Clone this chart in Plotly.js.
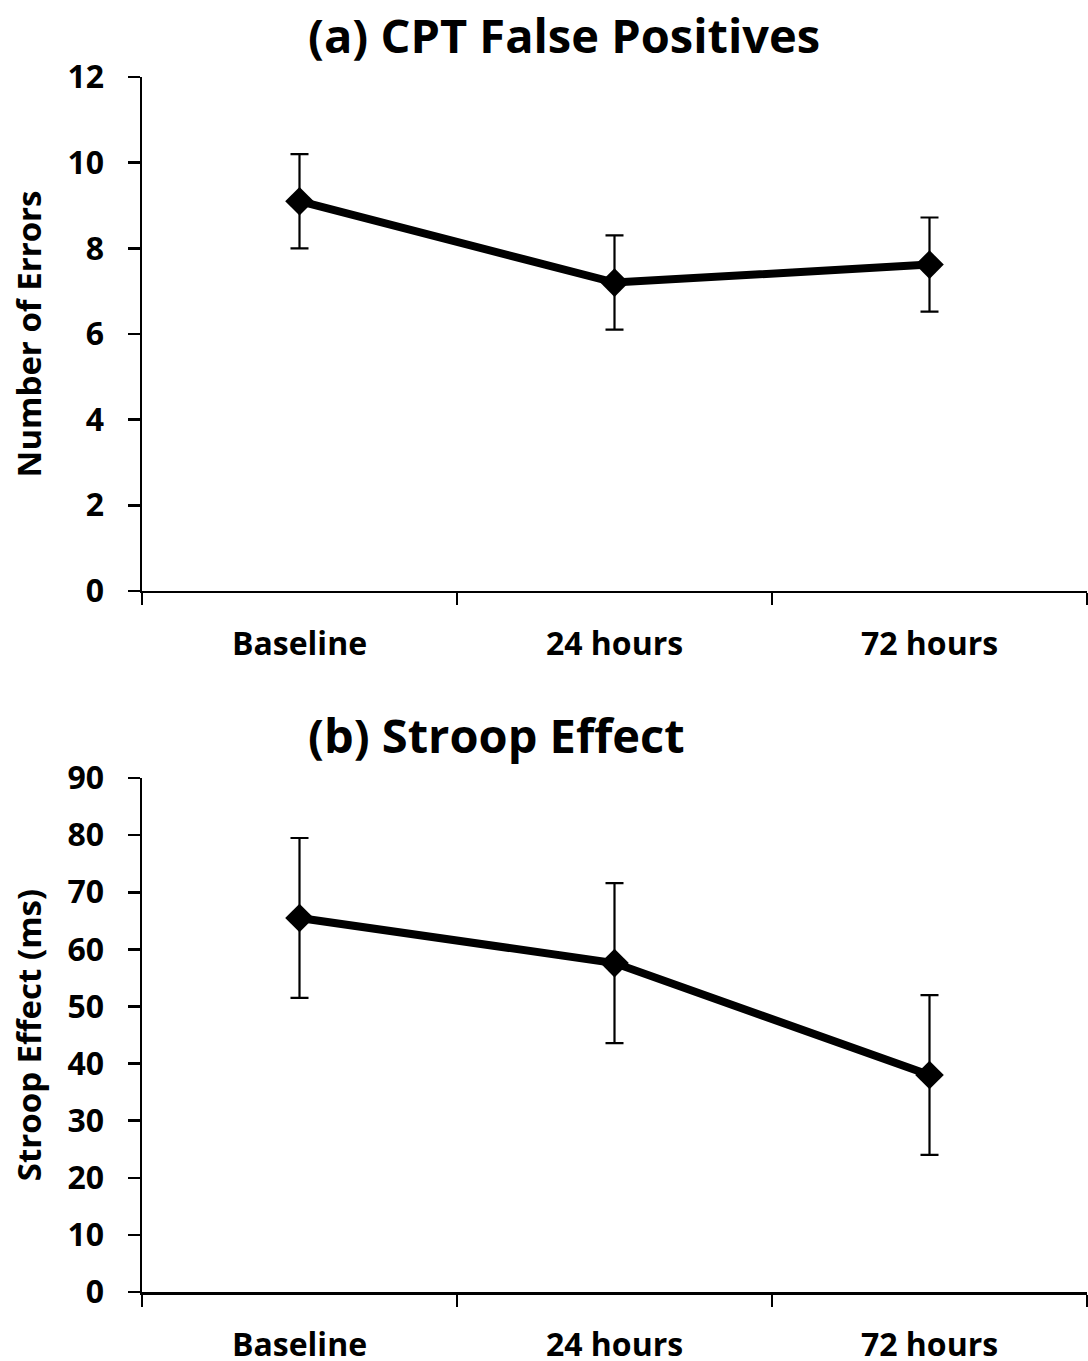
<!DOCTYPE html>
<html>
<head>
<meta charset="utf-8">
<script src="https://cdn.plot.ly/plotly-3.0.1.min.js"></script>
<style>html,body{margin:0;padding:0;background:#fff;}</style>
</head>
<body>
<div id="chart" style="width:1088px;height:1361px;"></div>
<script>
const categories = ["Baseline", "24 hours", "72 hours"];
const cptErrors = [9.1, 7.2, 7.62];
const cptSE = [1.1, 1.1, 1.1];
const stroopMs = [65.5, 57.6, 38.0];
const stroopSE = [14.0, 14.0, 14.0];
const titleA = "(a) CPT False Positives";
const titleB = "(b) Stroop Effect";
const yTitleA = "Number of Errors";
const yTitleB = "Stroop Effect (ms)";

const FONT = "'Open Sans', Lato, sans-serif";
const lineStyle = {color: "#000", width: 8};
const markerStyle = {symbol: "diamond", size: 22, color: "#000"};

function trace(y, se, xa, ya) {
  return {
    x: categories, y: y, xaxis: xa, yaxis: ya, type: "scatter", mode: "lines+markers",
    line: lineStyle, marker: markerStyle,
    error_y: {type: "data", array: se, visible: true, color: "#000", thickness: 2.2, width: 9},
    showlegend: false, hoverinfo: "none"
  };
}

const tickFont = {family: FONT, size: 32, color: "#000", weight: 700};
const xAxisBase = {
  type: "category", range: [-0.5, 2.5], showline: true, linecolor: "#000", linewidth: 2.5,
  ticks: "outside", tickson: "boundaries", ticklen: 12, tickwidth: 2.5, tickcolor: "#000",
  showgrid: false, zeroline: false, tickfont: tickFont, ticklabelstandoff: 23, fixedrange: true
};
const yAxisBase = {
  showline: true, linecolor: "#000", linewidth: 2.5, ticks: "outside", ticklen: 12,
  tickwidth: 2.5, tickcolor: "#000", showgrid: false, zeroline: false, tickfont: tickFont,
  ticklabelstandoff: 17, fixedrange: true
};
const yTitleFont = {family: FONT, size: 33, color: "#000", weight: 700};

const layout = {
  width: 1088, height: 1361,
  margin: {l: 142, r: 1, t: 77, b: 69},
  paper_bgcolor: "#fff", plot_bgcolor: "#fff",
  xaxis: Object.assign({}, xAxisBase, {domain: [0, 1], anchor: "y"}),
  yaxis: Object.assign({}, yAxisBase, {domain: [0.577, 1], anchor: "x", range: [0, 12], dtick: 2,
    title: {text: yTitleA, font: yTitleFont, standoff: 16}}),
  xaxis2: Object.assign({}, xAxisBase, {domain: [0, 1], anchor: "y2"}),
  yaxis2: Object.assign({}, yAxisBase, {domain: [0, 0.423], anchor: "x2", range: [0, 90], dtick: 10,
    title: {text: yTitleB, font: yTitleFont, standoff: 16}}),
  annotations: [
    {text: titleA, xref: "paper", yref: "paper", x: 0.174, y: 1.0346, xanchor: "left", yanchor: "middle",
     showarrow: false, font: {family: FONT, size: 47, color: "#000", weight: 700}},
    {text: titleB, xref: "paper", yref: "paper", x: 0.174, y: 0.4584, xanchor: "left", yanchor: "middle",
     showarrow: false, font: {family: FONT, size: 47, color: "#000", weight: 700}}
  ]
};

Plotly.newPlot("chart", [trace(cptErrors, cptSE, "x", "y"), trace(stroopMs, stroopSE, "x2", "y2")], layout,
  {displayModeBar: false, staticPlot: true});
</script>
</body>
</html>
